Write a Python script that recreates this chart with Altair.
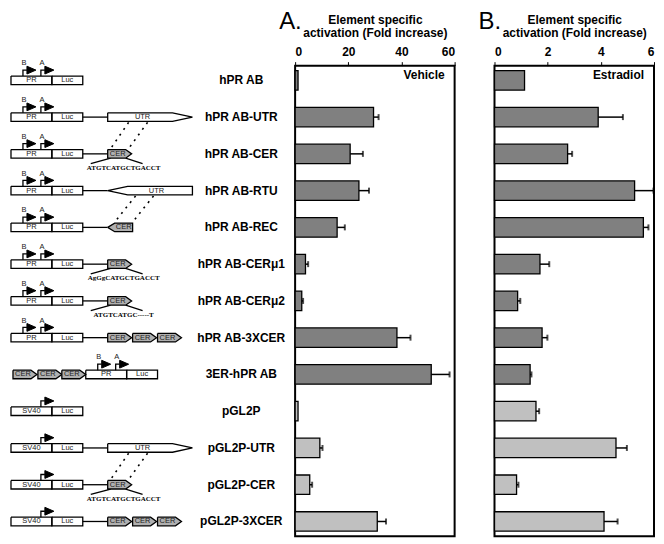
import altair as alt
import pandas as pd

FONT = "Liberation Sans"

# ---------------- data ----------------
constructs = ["hPR AB", "hPR AB-UTR", "hPR AB-CER", "hPR AB-RTU", "hPR AB-REC",
              "hPR AB-CERμ1", "hPR AB-CERμ2", "hPR AB-3XCER", "3ER-hPR AB",
              "pGL2P", "pGL2P-UTR", "pGL2P-CER", "pGL2P-3XCER"]
group = ["hPR"] * 9 + ["pGL2P"] * 4
vehicle = [1.1, 29.5, 20.7, 24.0, 15.8, 3.9, 2.5, 38.3, 51.2, 1.1, 9.3, 5.5, 30.9]
vehicle_err = [0.0, 1.9, 4.8, 3.8, 2.9, 1.0, 0.5, 5.1, 6.9, 0.0, 1.0, 0.9, 3.3]
estradiol = [1.13, 3.90, 2.75, 5.27, 5.60, 1.71, 0.87, 1.79, 1.34, 1.56, 4.57, 0.83, 4.12]
estradiol_err = [0.0, 0.93, 0.17, 0.71, 0.19, 0.35, 0.10, 0.20, 0.05, 0.12, 0.41, 0.07, 0.51]
ticks_a = [0, 20, 40, 60]
ticks_b = [0, 2, 4, 6]
axis_title = ["Element specific", "activation (Fold increase)"]

df = pd.DataFrame({"construct": constructs, "group": group,
                   "vehicle": vehicle, "vehicle_err": vehicle_err,
                   "estradiol": estradiol, "estradiol_err": estradiol_err})
df["vehicle_hi"] = df["vehicle"] + df["vehicle_err"]
df["estradiol_hi"] = df["estradiol"] + df["estradiol_err"]

# ---------------- schematic geometry (left column) ----------------
N = len(constructs)
PAD_IN, PAD_OUT = 0.47, 0.135
Y_SPAN = N - PAD_IN + 2 * PAD_OUT
REF_STEP = 37.7
PH = 472


def yy(i, dy):
    return PAD_OUT + (1 - PAD_IN) / 2 + i + dy / REF_STEP


outline, cer_polys, heads, dashes = [], [], [], []
small_txt, seq_txt = [], []
sid = [0]


def poly(store, pts, i):
    sid[0] += 1
    for k, (x, dy) in enumerate(pts):
        store.append({"sid": sid[0], "k": k, "x": x, "y": yy(i, dy)})


H = 4.4


def box(i, x0, x1, label):
    poly(outline, [(x0, -H), (x1, -H), (x1, H), (x0, H), (x0, -H)], i)
    small_txt.append({"x": (x0 + x1) / 2, "y": yy(i, 0), "t": label})


def cer(i, x0):
    poly(cer_polys, [(x0, -H), (x0 + 18, -H), (x0 + 24, 0), (x0 + 18, H), (x0, H), (x0, -H)], i)
    small_txt.append({"x": x0 + 10, "y": yy(i, 0), "t": "CER"})


def arrow(i, x):
    poly(outline, [(x, -H), (x, -10.5), (x + 4, -10.5)], i)
    poly(heads, [(x + 4, -14.5), (x + 13, -10.5), (x + 4, -6.5), (x + 4, -14.5)], i)


def letter(i, x, t):
    small_txt.append({"x": x, "y": yy(i, -17.5), "t": t})


def hpr(i, x0=0):
    box(i, x0, x0 + 41, "PR")
    box(i, x0 + 41, x0 + 72, "Luc")
    arrow(i, x0 + 12)
    letter(i, x0 + 13, "B")
    arrow(i, x0 + 30)
    letter(i, x0 + 31, "A")


def sv40(i):
    box(i, 0, 41, "SV40")
    box(i, 41, 72, "Luc")
    arrow(i, 30)


def linker(i):
    poly(outline, [(72, 0), (97, 0)], i)


def utr(i):
    poly(outline, [(97, -H), (162, -H), (182, 0), (162, H), (97, H), (97, -H)], i)
    small_txt.append({"x": 132, "y": yy(i, 0), "t": "UTR"})


def rtu(i):
    poly(outline, [(97, 0), (117, -H), (182, -H), (182, H), (117, H), (97, 0)], i)
    small_txt.append({"x": 146, "y": yy(i, 0), "t": "UTR"})


def rec(i):
    poly(cer_polys, [(97, 0), (104, -H), (122, -H), (122, H), (104, H), (97, 0)], i)
    small_txt.append({"x": 113, "y": yy(i, 0), "t": "CER"})


def seq(i, s):
    poly(outline, [(100, H), (80, 10)], i)
    poly(outline, [(115, H), (132, 10)], i)
    seq_txt.append({"x": 113, "y": yy(i, 14.5), "t": s})


def dash(i, xa, xb):
    sid[0] += 1
    dashes.append({"sid": sid[0], "k": 0, "x": xa, "y": yy(i, H + 1)})
    dashes.append({"sid": sid[0], "k": 1, "x": xb, "y": yy(i + 1, -H - 1)})


hpr(0)
hpr(1); linker(1); utr(1)
hpr(2); linker(2); cer(2, 97); seq(2, "ATGTCATGCTGACCT")
hpr(3); linker(3); rtu(3)
hpr(4); linker(4); rec(4)
hpr(5); linker(5); cer(5, 97); seq(5, "AgGgCATGCTGACCT")
hpr(6); linker(6); cer(6, 97); seq(6, "ATGTCATGC-----T")
hpr(7); linker(7); cer(7, 97); cer(7, 122); cer(7, 147)
cer(8, 2); cer(8, 27); cer(8, 51); hpr(8, 75)
sv40(9)
sv40(10); linker(10); utr(10)
sv40(11); linker(11); cer(11, 97); seq(11, "ATGTCATGCTGACCT")
sv40(12); linker(12); cer(12, 97); cer(12, 122); cer(12, 147)
dash(1, 118, 100); dash(1, 137, 118)
dash(3, 125, 104); dash(3, 143, 122)
dash(10, 118, 100); dash(10, 137, 118)

label_df = pd.DataFrame({"x": [231] * N, "y": [yy(i, 0) for i in range(N)], "t": constructs})

LW = 245
xs = alt.X("x:Q", scale=alt.Scale(domain=[0, LW], nice=False, zero=False), axis=None)
ys = alt.Y("y:Q", scale=alt.Scale(domain=[0, Y_SPAN], reverse=True, nice=False, zero=False), axis=None)

l_outline = alt.Chart(pd.DataFrame(outline)).mark_line(color="black", strokeWidth=1.3).encode(
    x=xs, y=ys, detail="sid:N", order="k:Q")
l_cer = alt.Chart(pd.DataFrame(cer_polys)).mark_line(color="black", strokeWidth=1.3, fill="#b0b0b0").encode(
    x=xs, y=ys, detail="sid:N", order="k:Q")
l_heads = alt.Chart(pd.DataFrame(heads)).mark_line(color="black", strokeWidth=1, fill="black").encode(
    x=xs, y=ys, detail="sid:N", order="k:Q")
l_dash = alt.Chart(pd.DataFrame(dashes)).mark_line(color="black", strokeWidth=1.6, strokeDash=[2, 5]).encode(
    x=xs, y=ys, detail="sid:N", order="k:Q")
l_small = alt.Chart(pd.DataFrame(small_txt)).mark_text(font=FONT, fontSize=7.5, color="#222").encode(
    x=xs, y=ys, text="t:N")
l_seq = alt.Chart(pd.DataFrame(seq_txt)).mark_text(font="Liberation Serif", fontWeight="bold", fontSize=7, color="black").encode(
    x=xs, y=ys, text="t:N")
l_labels = alt.Chart(label_df).mark_text(font=FONT, fontWeight="bold", fontSize=12, color="black").encode(
    x=xs, y=ys, text="t:N")

left = alt.layer(l_outline, l_cer, l_heads, l_dash, l_small, l_seq, l_labels).properties(
    width=LW, height=PH, view=alt.ViewBackground(stroke="transparent"))

# ---------------- bar panels ----------------
PW = 160


def panel(val, dmax, ticks, letter_txt, cond):
    base = alt.Chart(df)
    ysc = alt.Y("construct:N", sort=constructs, axis=None,
                scale=alt.Scale(paddingInner=PAD_IN, paddingOuter=PAD_OUT))
    xsc = alt.X(f"{val}:Q", scale=alt.Scale(domain=[0, dmax], nice=False),
                axis=alt.Axis(orient="top", values=ticks, title=axis_title, format="d"))
    bars = base.mark_bar(stroke="black", strokeWidth=1.3).encode(
        x=xsc, y=ysc,
        color=alt.Color("group:N", scale=alt.Scale(domain=["hPR", "pGL2P"], range=["#808080", "#c0c0c0"]),
                        legend=None))
    errb = base.transform_filter(f"datum.{val}_err > 0")
    rule = errb.mark_rule(color="black", strokeWidth=1.5).encode(
        x=f"{val}:Q", x2=f"{val}_hi:Q", y=ysc)
    cap = errb.mark_tick(color="black", thickness=2, size=6, orient="vertical").encode(
        x=f"{val}_hi:Q", y=ysc)
    ctext = alt.Chart(pd.DataFrame({"t": [cond]})).mark_text(
        font=FONT, fontWeight="bold", fontSize=12, align="right", baseline="alphabetic", color="black").encode(
        text="t:N", x=alt.value(PW - 10), y=alt.value(13))
    ltext = alt.Chart(pd.DataFrame({"t": [letter_txt]})).mark_text(
        font=FONT, fontSize=24, align="left", baseline="alphabetic", color="black").encode(
        text="t:N", x=alt.value(-16), y=alt.value(-37))
    return alt.layer(bars, rule, cap, ctext, ltext).properties(
        width=PW, height=PH, view=alt.ViewBackground(stroke="black", strokeWidth=2))


pa = panel("vehicle", 60, ticks_a, "A.", "Vehicle")
pb = panel("estradiol", 6, ticks_b, "B.", "Estradiol")

chart = alt.hconcat(left, pa, pb, spacing=40, bounds="flush").properties(
    padding={"left": 0, "top": 0, "right": 0, "bottom": 0}
).configure_view(strokeWidth=0).configure_axis(
    labelFont=FONT, titleFont=FONT, labelFontWeight="bold", titleFontWeight="bold",
    labelFontSize=12, titleFontSize=12, labelColor="black", titleColor="black",
    tickColor="black", tickSize=4, tickWidth=1, domain=False, grid=False,
    labelPadding=3, titlePadding=6, titleLineHeight=13
)

chart.save("out.html", embed_options={"renderer": "svg", "actions": False})
